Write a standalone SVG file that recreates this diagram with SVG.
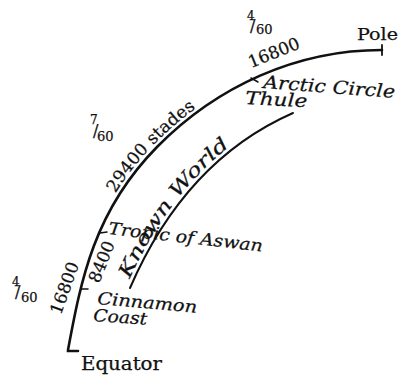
<svg xmlns="http://www.w3.org/2000/svg" width="400" height="382" viewBox="0 0 400 382">
<style>
.r{font-family:"DejaVu Serif","Liberation Serif",serif;fill:#111;stroke:#111;stroke-width:0.25}
.i{font-family:"DejaVu Serif","Liberation Serif",serif;font-style:italic;fill:#111;stroke:#111;stroke-width:0.25}
.arc{fill:none;stroke:#111;stroke-linecap:round}
</style>
<defs>
<path id="outerTxt" d="M115.3,193.4 C125.7,176.6 138.4,160.2 154.1,144.2 C214.1,83.2 297,46 382,46"/>
<path id="innerTxt" d="M126.3,286.4 C160,208.4 213.4,143.6 291.4,109.3"/>
</defs>
<g id="connectors">
<path id="meridian" class="arc" stroke-width="2.6" d="M78,351 L68,351 L68,350 C81,280 94,211 157,147 C217,86 297,50 382,50"/>
<path id="pole-tick" class="arc" stroke-width="1.8" d="M382,45 L382,55"/>
<path id="known-world-line" class="arc" stroke-width="2" d="M130,288 C163.8,210 215,147.3 293,113"/>
<path id="arctic-tick" class="arc" stroke-width="1.5" d="M251,78 L258,82"/>
<path id="tropic-tick" class="arc" stroke-width="1.5" d="M100,233 L107,232"/>
<path id="cinnamon-tick" class="arc" stroke-width="1.5" d="M81,289 L88,289"/>
</g>
<g id="pole"><text class="r" x="357" y="40" font-size="17" textLength="41" lengthAdjust="spacingAndGlyphs">Pole</text></g>
<g id="equator"><text class="r" x="81" y="370" font-size="18" textLength="81" lengthAdjust="spacingAndGlyphs">Equator</text></g>
<g id="arctic-circle"><text class="i" transform="translate(263,88) rotate(4.3)" font-size="18" textLength="132" lengthAdjust="spacingAndGlyphs">Arctic Circle</text></g>
<g id="thule"><text class="i" transform="translate(245,104) rotate(3)" font-size="18" textLength="62" lengthAdjust="spacingAndGlyphs">Thule</text></g>
<g id="tropic"><text class="i" transform="translate(108,234) rotate(6.5)" font-size="17" textLength="155" lengthAdjust="spacingAndGlyphs">Tropic of Aswan</text></g>
<g id="cinnamon"><text class="i" transform="translate(97,304) rotate(5)" font-size="17" textLength="100" lengthAdjust="spacingAndGlyphs">Cinnamon</text>
<text class="i" transform="translate(93,321) rotate(4)" font-size="17" textLength="54" lengthAdjust="spacingAndGlyphs">Coast</text></g>
<g id="known-world"><text class="i" font-size="19"><textPath href="#innerTxt" startOffset="8" textLength="168" lengthAdjust="spacingAndGlyphs">Known World</textPath></text></g>
<g id="dist-29400"><text class="r" font-size="17"><textPath href="#outerTxt" startOffset="0" textLength="118" lengthAdjust="spacingAndGlyphs">29400 stades</textPath></text></g>
<g id="dist-16800-top"><text class="r" transform="translate(276,58) rotate(-22)" font-size="17" text-anchor="middle">16800</text></g>
<g id="dist-16800-bottom"><text class="r" transform="translate(70,290) rotate(-70)" font-size="17" text-anchor="middle">16800</text></g>
<g id="dist-8400"><text class="r" transform="translate(107,264) rotate(-68)" font-size="17" text-anchor="middle">8400</text></g>
<g id="frac-top"><text class="r" x="247" y="20" font-size="12">4<tspan x="250" y="31" font-size="16">/</tspan><tspan x="256" y="34" font-size="13">60</tspan></text></g>
<g id="frac-mid"><text class="r" x="90" y="124" font-size="12">7<tspan x="93" y="136" font-size="16">/</tspan><tspan x="97" y="141" font-size="13">60</tspan></text></g>
<g id="frac-bottom"><text class="r" x="12" y="286" font-size="12">4<tspan x="15" y="297" font-size="16">/</tspan><tspan x="21" y="302" font-size="13">60</tspan></text></g>
</svg>
